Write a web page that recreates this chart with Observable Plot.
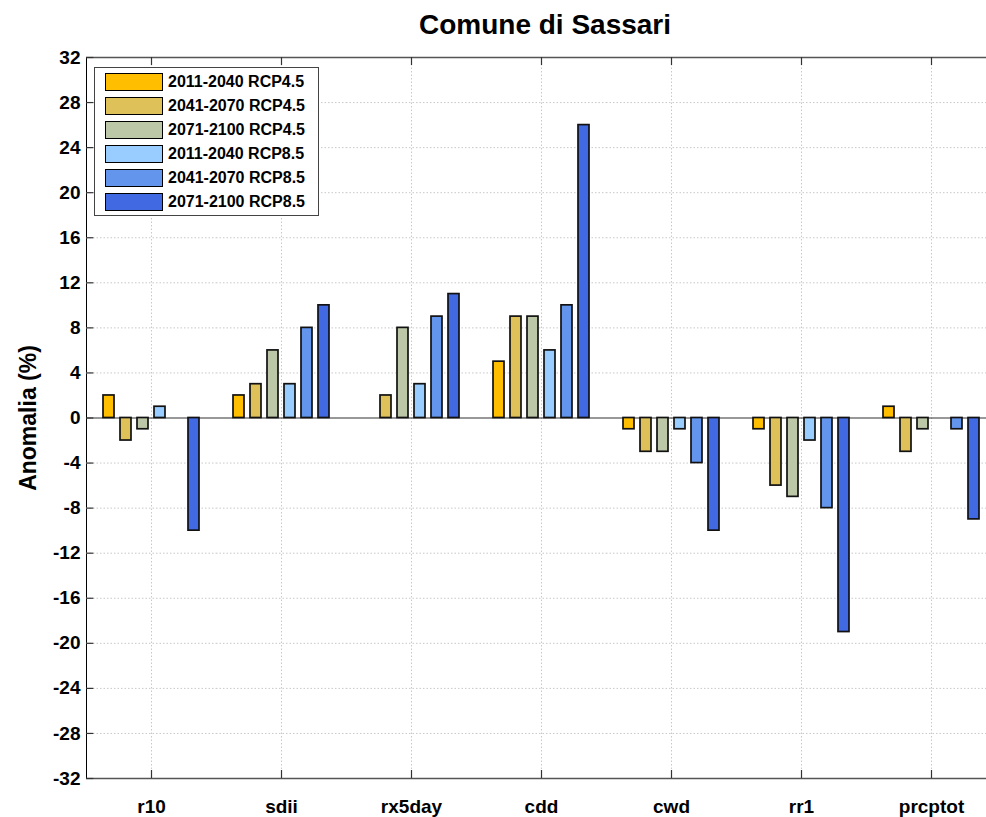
<!DOCTYPE html>
<html>
<head>
<meta charset="utf-8">
<script src="https://cdn.jsdelivr.net/npm/d3@7"></script>
<script src="https://cdn.jsdelivr.net/npm/@observablehq/plot@0.6"></script>
<style>
  html, body { margin: 0; padding: 0; background: #fff; }
  #wrap { position: relative; width: 986px; height: 817px; overflow: hidden; font-family: "Liberation Sans", Arial, Helvetica, sans-serif; font-weight: bold; color: #000; }
  #chart svg { display: block; }
  #title { position: absolute; left: 545px; top: 11px; transform: translateX(-50%); font-size: 28px; line-height: 1; white-space: nowrap; }
  #ylabel { position: absolute; left: 28px; top: 418px; transform: translate(-50%, -50%) rotate(-90deg); font-size: 23px; line-height: 1; white-space: nowrap; }
  #legend { position: absolute; left: 94px; top: 67px; width: 225px; height: 149px; box-sizing: border-box; border: 1px solid #444; background: #fff; }
  .sw { position: absolute; left: 10px; width: 58px; height: 18px; box-sizing: border-box; border: 1.5px solid #000; }
  .lt { position: absolute; left: 73px; height: 18px; line-height: 18px; font-size: 16px; white-space: nowrap; }
</style>
</head>
<body>
<div id="wrap">
  <div id="chart"></div>
  <div id="title"></div>
  <div id="ylabel"></div>
  <div id="legend"></div>
</div>
<script>
const titleText = "Comune di Sassari";
const yLabelText = "Anomalia (%)";
const categories = ["r10", "sdii", "rx5day", "cdd", "cwd", "rr1", "prcptot"];
const series = ["2011-2040 RCP4.5", "2041-2070 RCP4.5", "2071-2100 RCP4.5", "2011-2040 RCP8.5", "2041-2070 RCP8.5", "2071-2100 RCP8.5"];
const colors = ["#FFBF00", "#DEC259", "#BCC7A8", "#99CCFF", "#6495ED", "#4169E1"];
const yTicks = [-32, -28, -24, -20, -16, -12, -8, -4, 0, 4, 8, 12, 16, 20, 24, 28, 32];

// values per series, in category order
const v2011_45 = [2, 2, 0, 5, -1, -1, 1];
const v2041_45 = [-2, 3, 2, 9, -3, -6, -3];
const v2071_45 = [-1, 6, 8, 9, -3, -7, -1];
const v2011_85 = [1, 3, 3, 6, -1, -2, 0];
const v2041_85 = [0, 8, 9, 10, -4, -8, -1];
const v2071_85 = [-10, 10, 11, 26, -10, -19, -9];
const seriesValues = [v2011_45, v2041_45, v2071_45, v2011_85, v2041_85, v2071_85];

const data = categories.flatMap((c, i) => series.map((s, j) => ({cat: c, series: s, value: seriesValues[j][i]})));

const fxRange = [84, 998.6];
const facetW = (fxRange[1] - fxRange[0]) / categories.length;

const chart = Plot.plot({
  width: 986,
  height: 817,
  marginLeft: 84,
  marginRight: 0,
  marginTop: 57,
  marginBottom: 39,
  style: {fontFamily: "'Liberation Sans', Arial, Helvetica, sans-serif", fontSize: "19px", fontWeight: "bold", color: "#000", background: "#fff"},
  fx: {domain: categories, range: fxRange, padding: 0, label: null, axis: "bottom", tickSize: 0, tickPadding: 21},
  x: {domain: series, paddingInner: 0.37, paddingOuter: 0.917, axis: null},
  y: {domain: [-32, 32], ticks: yTicks, tickFormat: d => String(d), tickSize: 0, tickPadding: 6, label: null, line: true},
  color: {domain: series, range: colors},
  marks: [
    Plot.ruleY(yTicks.filter(t => t !== 0 && Math.abs(t) !== 32), {y: d => d, stroke: "#c8c8c8", strokeDasharray: "1.5,2"}),
    Plot.ruleX(categories, {fx: d => d, x: null, stroke: "#c8c8c8", strokeDasharray: "1.5,2"}),
    Plot.ruleY([0], {y: d => d, stroke: "#333", strokeWidth: 1.2}),
    Plot.ruleY([32, -32], {y: d => d, stroke: "#555", strokeWidth: 1.4}),
    Plot.tickY(yTicks, {y: d => d, fx: () => categories[0], insetRight: facetW - 8, stroke: "#333", strokeWidth: 1.2}),
    Plot.ruleX(categories, {fx: d => d, x: null, insetTop: 713, stroke: "#333", strokeWidth: 1.2}),
    Plot.ruleX(categories, {fx: d => d, x: null, insetBottom: 713, stroke: "#333", strokeWidth: 1.2}),
    Plot.barY(data, {fx: "cat", x: "series", y: "value", fill: "series", stroke: "#111", strokeWidth: 1.7})
  ]
});
document.getElementById("chart").appendChild(chart);

document.getElementById("title").textContent = titleText;
document.getElementById("ylabel").textContent = yLabelText;
const legend = document.getElementById("legend");
series.forEach((s, i) => {
  const sw = document.createElement("div");
  sw.className = "sw";
  sw.style.top = (5 + 24 * i) + "px";
  sw.style.background = colors[i];
  legend.appendChild(sw);
  const t = document.createElement("div");
  t.className = "lt";
  t.style.top = (5 + 24 * i) + "px";
  t.textContent = s;
  legend.appendChild(t);
});
</script>
</body>
</html>
